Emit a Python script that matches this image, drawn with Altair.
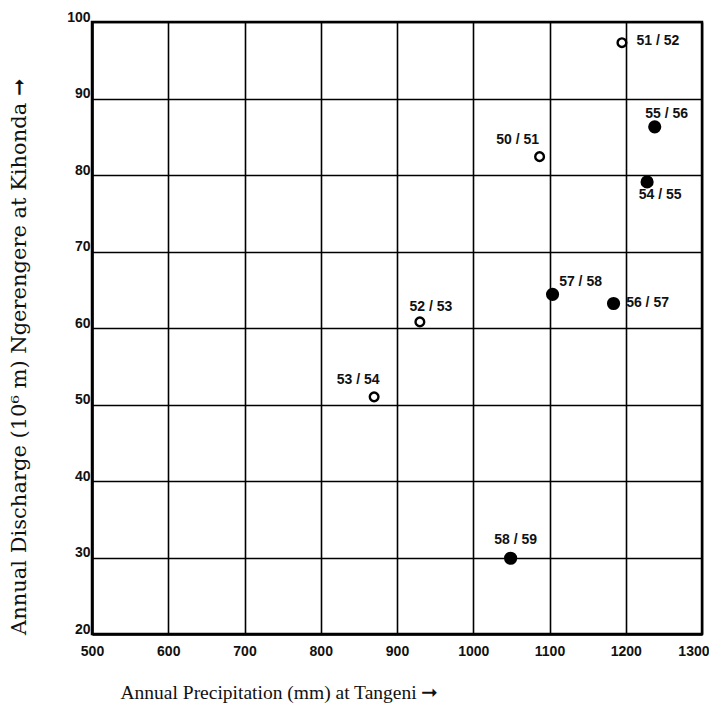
import altair as alt
import pandas as pd

# ---- data ----
seasons = ["50 / 51", "51 / 52", "52 / 53", "53 / 54", "54 / 55",
           "55 / 56", "56 / 57", "57 / 58", "58 / 59"]
precip_mm = [1087, 1195, 930, 870, 1228, 1238, 1184, 1104, 1049]
discharge = [82.4, 97.3, 60.8, 51.0, 79.1, 86.3, 63.2, 64.4, 29.9]
marker = ["open", "open", "open", "open", "filled",
          "filled", "filled", "filled", "filled"]

x_ticks = [500, 600, 700, 800, 900, 1000, 1100, 1200, 1300]
y_ticks = [20, 30, 40, 50, 60, 70, 80, 90, 100]

df = pd.DataFrame({"season": seasons, "precip": precip_mm,
                   "discharge": discharge, "marker": marker})

# label placement (pixels, relative to the point; center-aligned text)
label_shift = {
    "50 / 51": (-22, -17), "51 / 52": (36, -2), "52 / 53": (11, -15),
    "53 / 54": (-16, -17), "54 / 55": (13, 13), "55 / 56": (12, -13),
    "56 / 57": (34, -1), "57 / 58": (28, -12), "58 / 59": (5, -18),
}

x_enc = alt.X("precip:Q",
              scale=alt.Scale(domain=[500, 1300], nice=False, zero=False),
              axis=alt.Axis(values=x_ticks, format="d",
                            title="Annual Precipitation (mm) at Tangeni \u279e",
                            titleX=187, titleY=64, titleAlign="center",
                            titleBaseline="alphabetic",
                            titleFont="Liberation Serif", titleFontSize=19.5,
                            labelAlign={"condition": {"test": "datum.value == 1300", "value": "right"},
                                        "value": "center"},
                            labelOffset={"condition": {"test": "datum.value == 1300", "value": 7},
                                         "value": 0}))
y_enc = alt.Y("discharge:Q",
              scale=alt.Scale(domain=[20, 100], nice=False, zero=False),
              axis=alt.Axis(values=y_ticks, format="d",
                            title="Annual Discharge (10\u2076 m) Ngerengere at Kihonda \u279e",
                            titleX=-67, titleY=334, titleAlign="center",
                            titleBaseline="alphabetic", titleAngle=270,
                            titleFont="DejaVu Serif", titleFontSize=21))

base = alt.Chart(df)

open_pts = base.transform_filter(alt.datum.marker == "open").mark_point(
    shape="circle", filled=False, stroke="black", strokeWidth=2.4, size=75, opacity=1
).encode(x=x_enc, y=y_enc)

filled_pts = base.transform_filter(alt.datum.marker == "filled").mark_point(
    shape="circle", filled=True, fill="black", stroke="black", size=125, opacity=1
).encode(x=x_enc, y=y_enc)

text_layers = []
for s in seasons:
    dx, dy = label_shift[s]
    text_layers.append(
        base.transform_filter(alt.datum.season == s).mark_text(
            font="Liberation Sans", fontWeight="bold", fontSize=14,
            color="#111", align="center", baseline="middle", dx=dx, dy=dy
        ).encode(x=x_enc, y=y_enc, text="season:N")
    )

chart = alt.layer(open_pts, filled_pts, *text_layers).properties(
    width=610, height=612,
    autosize=alt.AutoSizeParams(type="none"),
    padding={"left": 84, "top": 14, "right": 7, "bottom": 72},
    background="white",
).configure_view(
    stroke="black", strokeWidth=2.5
).configure_axis(
    grid=True, gridColor="black", gridWidth=1.6, gridOpacity=1,
    domain=True, domainColor="black", domainWidth=2.5,
    ticks=False,
    labelFont="Liberation Sans", labelFontWeight="bold", labelFontSize=14,
    labelColor="#111",
    titleFontWeight="normal", titleColor="#111",
).configure_axisX(
    labelPadding=10, labelFlush=False
).configure_axisY(
    labelPadding=2, labelBaseline="alphabetic", labelOffset=-1, labelAlign="right"
)

chart.save("out.html", embed_options={"renderer": "svg", "actions": False})
